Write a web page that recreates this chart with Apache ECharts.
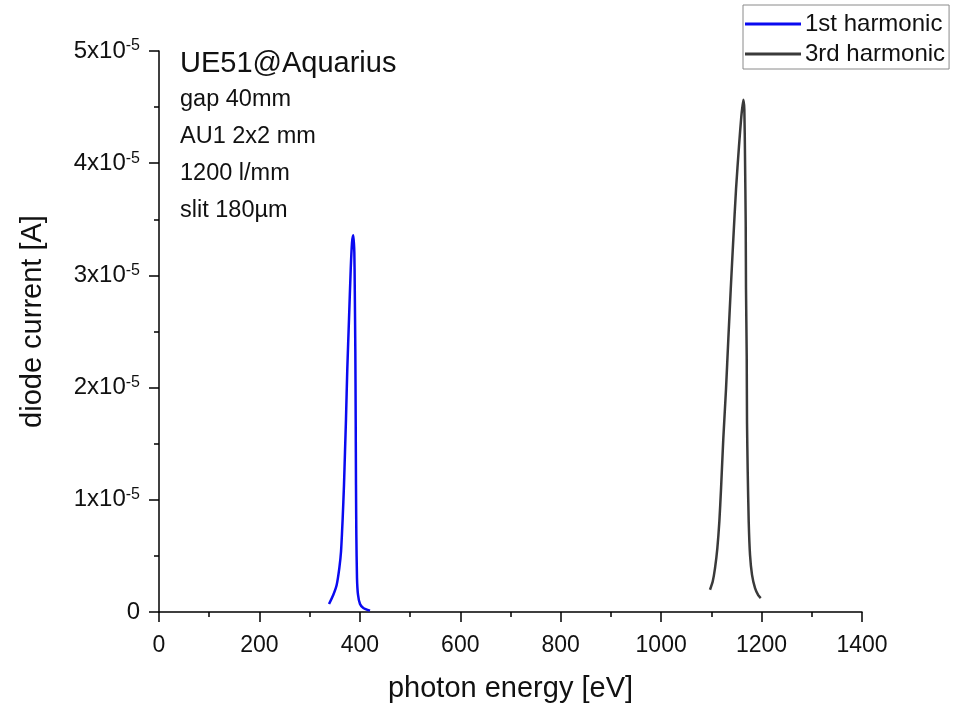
<!DOCTYPE html>
<html>
<head>
<meta charset="utf-8">
<script src="https://cdn.jsdelivr.net/npm/echarts@6/dist/echarts.min.js"></script>
<style>html,body{margin:0;padding:0;background:#fff}#c{width:954px;height:708px}</style>
</head>
<body>
<div id="c"></div>
<script>
// photon energy [eV] and diode current [A]
const firstEnergy = [338.6,347.2,353.9,359.1,362.5,365.8,368.4,370.4,372.4,375.0,378.4,381.8,384.4,387.0,389.0,389.8,391.0,391.7,392.3,393.0,394.3,396.3,400.3,406.9,420.2];
const firstCurrent = [0.071e-5,0.154e-5,0.243e-5,0.391e-5,0.539e-5,0.835e-5,1.131e-5,1.427e-5,1.723e-5,2.167e-5,2.611e-5,3.055e-5,3.292e-5,3.357e-5,3.203e-5,2.907e-5,2.315e-5,1.723e-5,1.131e-5,0.687e-5,0.302e-5,0.154e-5,0.071e-5,0.036e-5,0.012e-5];
const thirdEnergy = [1097.3,1102.7,1107.3,1111.9,1115.9,1119.3,1123.8,1129.2,1133.8,1138.6,1143.7,1149.1,1155.0,1159.7,1163.7,1165.7,1167.0,1168.4,1169.0,1170.4,1171.0,1172.4,1174.4,1177.0,1181.0,1187.0,1193.6,1198.3];
const thirdCurrent = [0.198e-5,0.272e-5,0.391e-5,0.568e-5,0.805e-5,1.101e-5,1.545e-5,1.989e-5,2.433e-5,2.877e-5,3.321e-5,3.766e-5,4.150e-5,4.417e-5,4.565e-5,4.476e-5,4.061e-5,3.470e-5,2.877e-5,2.285e-5,1.694e-5,1.250e-5,0.805e-5,0.509e-5,0.331e-5,0.213e-5,0.148e-5,0.124e-5];
const seriesNames = ['1st harmonic','3rd harmonic'];
const annotationTitle = 'UE51@Aquarius';
const annotationLines = ['gap 40mm','AU1 2x2 mm','1200 l/mm','slit 180µm'];
const xTitle = 'photon energy [eV]';
const yTitle = 'diode current [A]';

const FONT = '"Liberation Sans", Arial, sans-serif';
const zip = (a,b) => a.map((v,i)=>[v,b[i]]);

const chart = echarts.init(document.getElementById('c'), null, {renderer:'canvas'});
const axisCommon = {
  axisLine:{show:true, onZero:false, lineStyle:{color:'#000', width:1.5}},
  axisTick:{show:true, inside:false, length:10, lineStyle:{color:'#000', width:1.5}},
  minorTick:{show:true, splitNumber:2, length:5, lineStyle:{color:'#000', width:1.5}},
  splitLine:{show:false},
  minorSplitLine:{show:false}
};
chart.setOption({
  animation:false,
  backgroundColor:'#fff',
  grid:{left:159, right:92, top:51, bottom:94, containLabel:false},
  legend:{
    orient:'vertical', left:743, top:5,
    padding:[7,4,3,2], itemGap:6, itemWidth:56, itemHeight:3,
    borderColor:'#8a8a8a', borderWidth:1, backgroundColor:'#fff',
    icon:'rect',
    textStyle:{fontFamily:FONT, fontSize:24, color:'#111', padding:[0,0,0,-1]},
    data:seriesNames
  },
  xAxis:Object.assign({
    type:'value', min:0, max:1400, interval:200,
    name:xTitle, nameLocation:'middle', nameGap:62,
    nameTextStyle:{fontFamily:FONT, fontSize:29, color:'#111'},
    axisLabel:{fontFamily:FONT, fontSize:23, color:'#111', margin:22,
      formatter:function(v){ return String(Math.round(v)); }}
  }, axisCommon),
  yAxis:Object.assign({
    type:'value', min:0, max:5e-5, interval:1e-5,
    name:yTitle, nameLocation:'middle', nameGap:112,
    nameTextStyle:{fontFamily:FONT, fontSize:29, color:'#111', padding:[0,0,0,20]},
    axisLabel:{
      fontFamily:FONT, color:'#111', margin:19,
      formatter:function(v){
        const n = Math.round(v/1e-5);
        return n===0 ? '{a|0}' : '{a|'+n+'x10}{b|-5}';
      },
      rich:{
        a:{fontFamily:FONT, fontSize:24, color:'#111', lineHeight:26},
        b:{fontFamily:FONT, fontSize:16, color:'#111', lineHeight:14, verticalAlign:'top'}
      }
    }
  }, axisCommon),
  graphic:[
    {type:'text', left:180, top:49, style:{text:annotationTitle, fontFamily:FONT, fontSize:29, fill:'#111'}},
    ...annotationLines.map((t,i)=>({type:'text', left:180, top:88+i*36.7, style:{text:t, fontFamily:FONT, fontSize:23.5, fill:'#111'}}))
  ],
  series:[
    {name:seriesNames[0], type:'line', data:zip(firstEnergy,firstCurrent), showSymbol:false, symbol:'none', smooth:0.2,
     lineStyle:{color:'#0a0af0', width:2.5}, itemStyle:{color:'#0a0af0'}},
    {name:seriesNames[1], type:'line', data:zip(thirdEnergy,thirdCurrent), showSymbol:false, symbol:'none', smooth:0.2,
     lineStyle:{color:'#3a3a3a', width:2.5}, itemStyle:{color:'#3a3a3a'}}
  ]
});
</script>
</body>
</html>
